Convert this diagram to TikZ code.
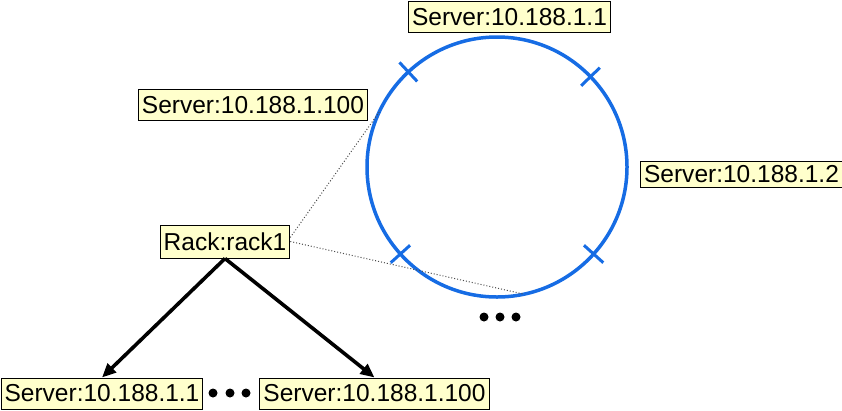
\documentclass[tikz,border=0pt]{standalone}
\usepackage{fontspec}
\setmainfont{Liberation Sans}
\usetikzlibrary{calc}
\usetikzlibrary{arrows.meta}
\definecolor{ringblue}{RGB}{22,108,228}
\definecolor{notepaper}{RGB}{255,255,204}
\tikzset{
  hostbox/.style={draw=black, line width=1pt, fill=notepaper, inner xsep=3.5pt,
    inner ysep=2pt, minimum height=31pt, font=\fontsize{24.5}{26}\selectfont},
  ringtick/.style={ringblue, line width=3pt},
  linkarrow/.style={line width=3.6pt, -{Triangle[length=14pt,width=12pt]}},
  hashline/.style={gray!60!black, line width=1pt, dotted}
}

\begin{document}
\begin{tikzpicture}[x=1pt,y=-1pt]
  \useasboundingbox (0,0) rectangle (842,410);
  \def\ringrad{130pt}

  \coordinate (c) at (497,167);
  \draw[ringblue, line width=3.5pt] (c) circle[radius=\ringrad];
  \foreach \a in {133,44,222,318}
    \draw[ringtick] ($(c)+(\a:117pt)$) -- ($(c)+(\a:143pt)$);

  \node[hostbox] (srvA) at (509.5,17) {Server:10.188.1.1};
  \node[hostbox] (srvB) at (741.5,174) [minimum height=26pt] {Server:10.188.1.2};
  \node[hostbox] (srvZ) at (253,105) {Server:10.188.1.100};

  \node[hostbox, minimum height=33pt] (rack) at (225,241.5) {Rack:rack1};
  \node[hostbox] (leafA) at (102,393.5) {Server:10.188.1.1};
  \node[hostbox] (leafZ) at (374.5,393.5) {Server:10.188.1.100};

  % rack position on the ring
  \coordinate (arcfrom) at ($(c)+(155:\ringrad)$);
  \coordinate (arcto) at ($(c)+(-78:\ringrad)$);
  \draw[hashline] ([yshift=4pt]rack.east) -- (arcfrom);
  \draw[hashline] (rack.east) -- (arcto);

  \draw[linkarrow] (rack.south) -- (leafA.north);
  \draw[linkarrow] (rack.south) -- (leafZ.north);

  % ellipses
  \foreach \x in {484,500,516}
    \fill (\x,317) circle[radius=4.5pt];
  \foreach \x in {213,230,246}
    \fill (\x,393) circle[radius=4.5pt];
\end{tikzpicture}
\end{document}
